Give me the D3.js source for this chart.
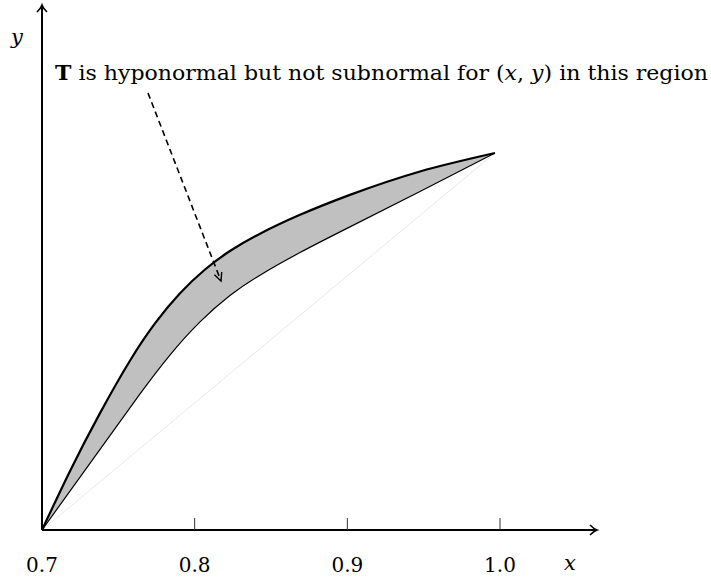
<!DOCTYPE html>
<html>
<head>
<meta charset="utf-8">
<script src="https://cdn.jsdelivr.net/npm/d3@7"></script>
<style>
  html, body { margin: 0; padding: 0; background: #fff; }
  svg { display: block; }
</style>
</head>
<body>
<svg id="chart" width="711" height="578" font-family="'DejaVu Serif', 'Liberation Serif', serif"></svg>
<script>
// Tick values on the x axis
const xTicks = [0.8, 0.9, 1.0];
const xTickLabels = ["0.7", "0.8", "0.9", "1.0"];
const xLabelValues = [0.7, 0.8, 0.9, 1.0];

// Upper boundary of the shaded region (x, y)
const upperX = [0.7000, 0.7183, 0.7380, 0.7576, 0.7740, 0.7904, 0.8068, 0.8231, 0.8428, 0.8690, 0.9017, 0.9476, 0.9967];
const upperY = [0.000, 0.156, 0.310, 0.449, 0.548, 0.628, 0.691, 0.740, 0.786, 0.836, 0.889, 0.951, 1.000];

// Lower boundary of the shaded region (x, y)
const lowerX = [0.7000, 0.7380, 0.7642, 0.7838, 0.8035, 0.8231, 0.8428, 0.8690, 0.9017, 0.9476, 0.9967];
const lowerY = [0.000, 0.214, 0.361, 0.464, 0.552, 0.622, 0.676, 0.736, 0.804, 0.898, 1.000];

// Straight reference segment
const diagX = [0.7000, 0.9967];
const diagY = [0.000, 1.000];

const svg = d3.select("#chart");

const x = d3.scaleLinear().domain([0.7, 1.0]).range([42, 500]);
const y = d3.scaleLinear().domain([0, 1]).range([530, 153]);

const upper = upperX.map((v, i) => [v, upperY[i]]);
const lower = lowerX.map((v, i) => [v, lowerY[i]]);
const diag = diagX.map((v, i) => [v, diagY[i]]);

const line = d3.line().x(d => x(d[0])).y(d => y(d[1])).curve(d3.curveNatural);

// Shaded band: upper boundary forward, lower boundary back
const upperPath = line(upper);
const lowerRevPath = line(lower.slice().reverse());
svg.append("path")
  .attr("d", upperPath + "L" + lowerRevPath.slice(1) + "Z")
  .attr("fill", "#c0c0c0")
  .attr("stroke", "none");

// Faint diagonal
svg.append("path")
  .attr("d", d3.line().x(d => x(d[0])).y(d => y(d[1]))(diag))
  .attr("fill", "none")
  .attr("stroke", "#d8d8d8")
  .attr("stroke-width", 0.6);

svg.append("path")
  .attr("d", line(lower))
  .attr("fill", "none")
  .attr("stroke", "#000")
  .attr("stroke-width", 1.2);

svg.append("path")
  .attr("d", upperPath)
  .attr("fill", "none")
  .attr("stroke", "#000")
  .attr("stroke-width", 2.2);

// Axes with arrow tips
const x0 = x(0.7), y0 = y(0);
const axisEndX = 597, axisEndY = 5;
const axes = svg.append("g").attr("stroke", "#000").attr("fill", "none");
axes.append("line").attr("x1", x0).attr("y1", y0).attr("x2", axisEndX).attr("y2", y0).attr("stroke-width", 2);
axes.append("line").attr("x1", x0).attr("y1", y0).attr("x2", x0).attr("y2", axisEndY).attr("stroke-width", 2);
axes.append("path").attr("d", `M${axisEndX - 7},${y0 - 5} Q${axisEndX - 3},${y0 - 1} ${axisEndX},${y0} Q${axisEndX - 3},${y0 + 1} ${axisEndX - 7},${y0 + 5}`).attr("stroke-width", 1.6);
axes.append("path").attr("d", `M${x0 - 5},${axisEndY + 7} Q${x0 - 1},${axisEndY + 3} ${x0},${axisEndY} Q${x0 + 1},${axisEndY + 3} ${x0 + 5},${axisEndY + 7}`).attr("stroke-width", 1.6);

// Tick marks above the x axis
svg.append("g").selectAll("line").data(xTicks).join("line")
  .attr("x1", d => x(d)).attr("x2", d => x(d))
  .attr("y1", y0).attr("y2", y0 - 12)
  .attr("stroke", "#333").attr("stroke-width", 1);

svg.append("g").selectAll("text").data(xLabelValues).join("text")
  .attr("x", d => x(d)).attr("y", 572)
  .attr("text-anchor", "middle")
  .attr("font-size", 20)
  .text((d, i) => xTickLabels[i]);

svg.append("text").attr("x", 570).attr("y", 570).attr("text-anchor", "middle")
  .attr("font-size", 21).attr("font-style", "italic").text("x");
svg.append("text").attr("x", 17).attr("y", 44).attr("text-anchor", "middle")
  .attr("font-size", 21).attr("font-style", "italic").text("y");

// Annotation
const note = svg.append("text").attr("x", 55).attr("y", 80).attr("font-size", 20)
  .attr("textLength", 653).attr("lengthAdjust", "spacingAndGlyphs");
note.append("tspan").attr("font-weight", "bold").text("T");
note.append("tspan").text(" is hyponormal but not subnormal for (");
note.append("tspan").attr("font-style", "italic").text("x");
note.append("tspan").text(", ");
note.append("tspan").attr("font-style", "italic").text("y");
note.append("tspan").text(") in this region");

// Dashed pointer into the band
const ax1 = 148, ay1 = 93, ax2 = 221, ay2 = 281;
svg.append("line")
  .attr("x1", ax1).attr("y1", ay1).attr("x2", ax2).attr("y2", ay2)
  .attr("stroke", "#000").attr("stroke-width", 1.6)
  .attr("stroke-dasharray", "6,4");
const ang = Math.atan2(ay2 - ay1, ax2 - ax1);
const hl = 9, hw = 0.45;
svg.append("path")
  .attr("d", `M${ax2 - hl * Math.cos(ang - hw)},${ay2 - hl * Math.sin(ang - hw)} L${ax2},${ay2} L${ax2 - hl * Math.cos(ang + hw)},${ay2 - hl * Math.sin(ang + hw)}`)
  .attr("fill", "none").attr("stroke", "#000").attr("stroke-width", 1.4);
</script>
</body>
</html>
